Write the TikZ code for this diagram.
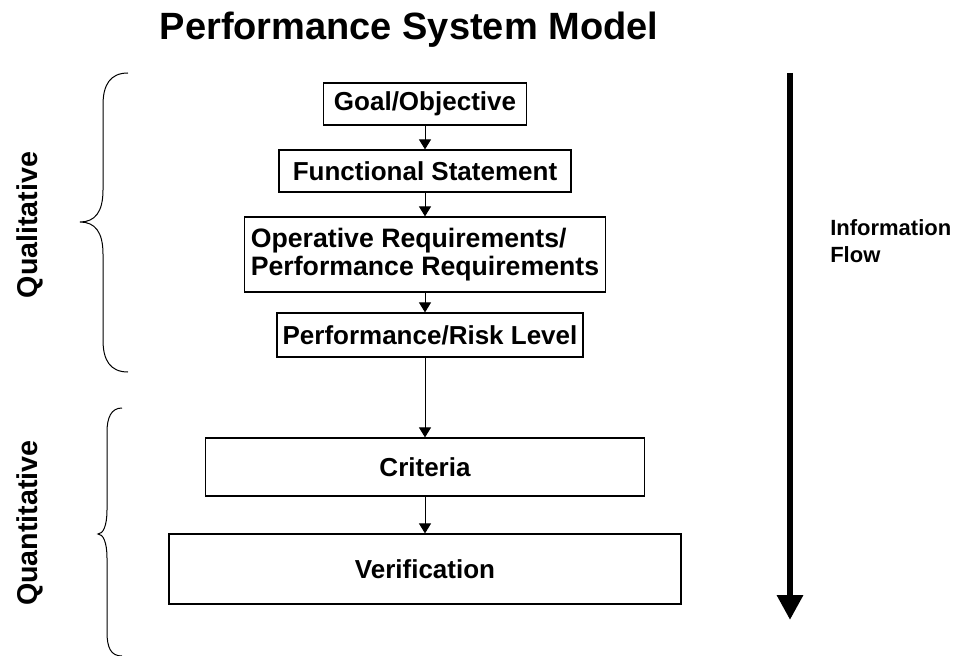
\documentclass[tikz,border=0pt]{standalone}
\usepackage{fontspec}
\setmainfont{Liberation Sans}
\usetikzlibrary{arrows.meta}
\begin{document}
\begin{tikzpicture}[x=0.75pt,y=-0.75pt,
    >={Triangle[width=9pt,length=7.5pt]},
    box/.style={draw,line width=0.9pt,inner sep=0pt,align=center,
      font=\fontsize{19.5}{21}\selectfont\bfseries},
    side/.style={rotate=90,anchor=base,font=\fontsize{21.5}{25}\selectfont\bfseries},
    brace/.style={line width=0.75pt}]
    \useasboundingbox (0,0) rectangle (961,656);
    \node[anchor=base,font=\fontsize{28.5}{34}\selectfont\bfseries] (title) at (409,40) {Performance System Model};
    % chain of boxes
    \node[box,minimum width=152.25pt,minimum height=31.5pt] (goal) at (425,104) {Goal/Objective};
    \node[box,minimum width=219pt,minimum height=31.5pt] (func) at (425,171) {Functional Statement};
    \node[box,align=left,font=\fontsize{20}{21}\selectfont\bfseries,
      minimum width=270.75pt,minimum height=56.25pt] (oper) at (425,254.5) {Operative Requirements/\\Performance Requirements};
    \node[box,minimum width=229.5pt,minimum height=33pt] (risk) at (430,335) {Performance/Risk Level};
    \node[box,minimum width=329.25pt,minimum height=43.5pt] (crit) at (425,467) {Criteria};
    \node[box,minimum width=384pt,minimum height=52.5pt] (verif) at (425,569) {Verification};
    \draw[->,line width=0.75pt] (goal) -- (func);
    \draw[->,line width=0.75pt] (func) -- (oper);
    \draw[->,line width=0.75pt] (oper) -- (oper |- risk.north);
    \draw[->,line width=0.75pt] (risk.south -| crit) -- (crit);
    \draw[->,line width=0.75pt] (crit) -- (verif);
    % information flow
    \coordinate (flowtop) at (790,73);
    \coordinate (flowend) at (790,620);
    \draw[-{Triangle[width=18.75pt,length=18.75pt]},line width=5pt] (flowtop) -- (flowend);
    \node[align=left,anchor=north west,inner sep=0pt,font=\fontsize{16.5}{20.25}\selectfont\bfseries] (info) at (830,219) {Information\\Flow};
    % braces
    \draw[brace] (128,73) .. controls (110,73) and (103,85) .. (103,105) -- (103,190)
      .. controls (103,212) and (95,222) .. (80,222)
      .. controls (95,222) and (103,232) .. (103,254) -- (103,340)
      .. controls (103,360) and (110,372) .. (128,372);
    \draw[brace] (122,408) .. controls (111,408) and (107,418) .. (107,432) -- (107,510)
      .. controls (107,526) and (103,534) .. (98,534)
      .. controls (103,534) and (107,542) .. (107,558) -- (107,632)
      .. controls (107,648) and (111,656) .. (122,656);
    \node[side] (qual) at (37,225) {Qualitative};
    \node[side] (quant) at (37,523) {Quantitative};
\end{tikzpicture}
\end{document}
